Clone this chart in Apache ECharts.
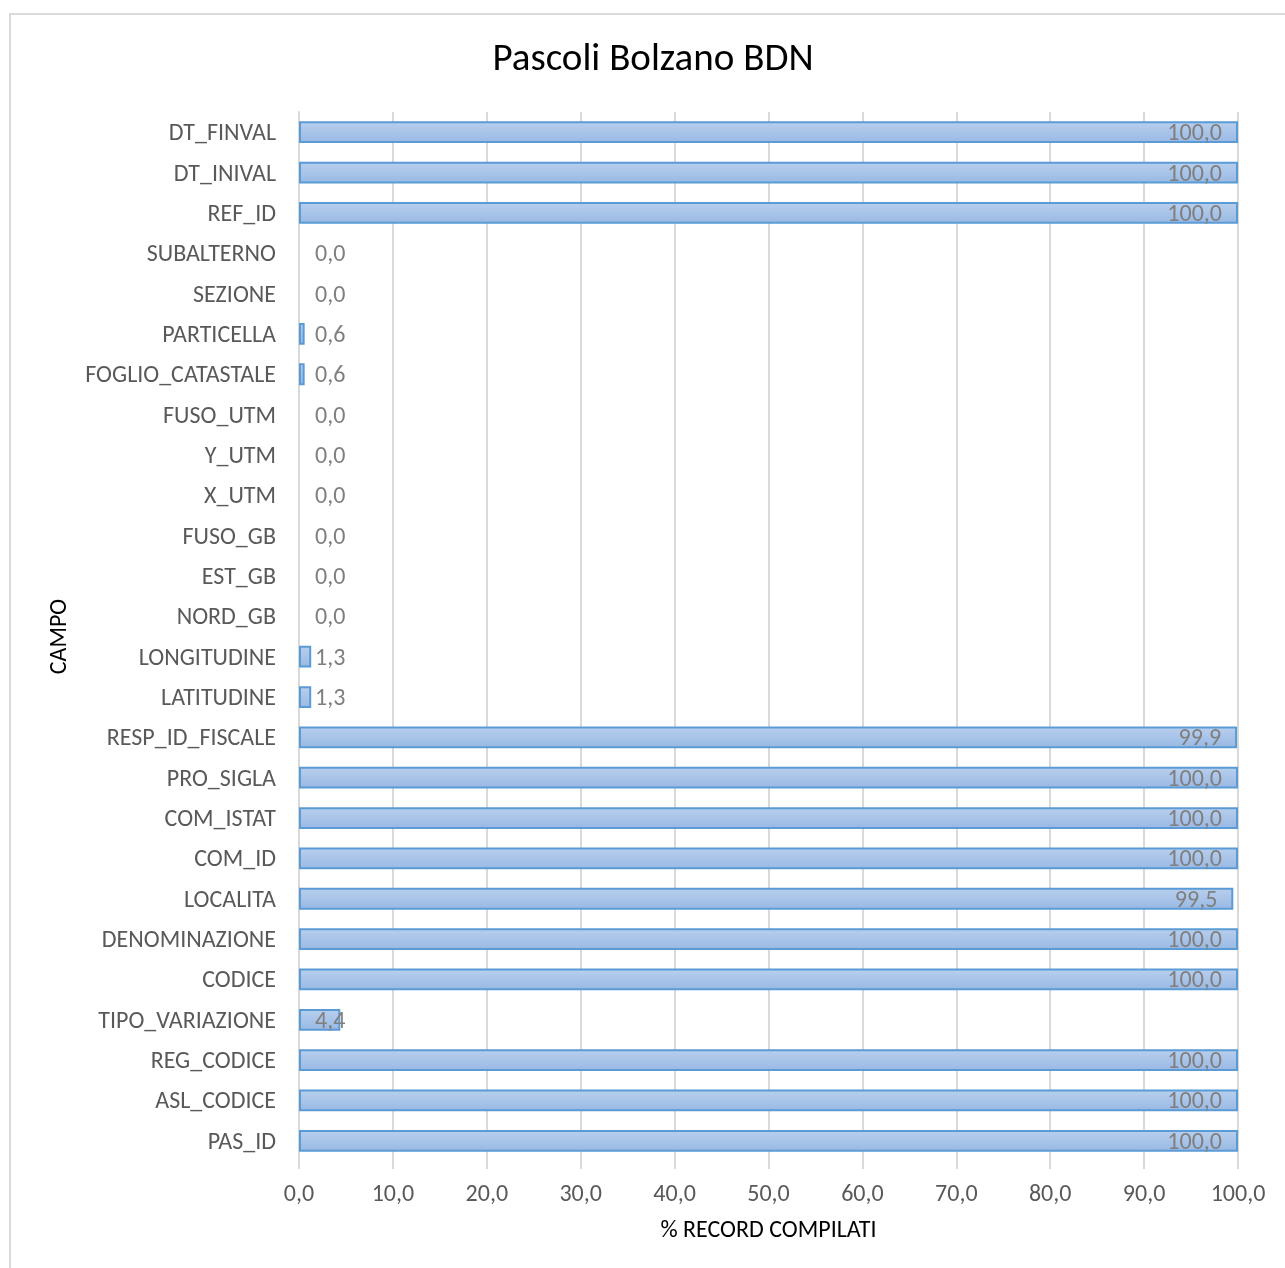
<!DOCTYPE html>
<html>
<head>
<meta charset="utf-8">
<script src="https://cdn.jsdelivr.net/npm/echarts@6/dist/echarts.min.js"></script>
<style>
  html, body { margin: 0; padding: 0; background: #fff; }
  #chart { width: 1285px; height: 1268px; }
</style>
</head>
<body>
<div id="chart"></div>
<script>
// Fields, listed bottom to top as they appear on the category axis
const campi = [
  'PAS_ID', 'ASL_CODICE', 'REG_CODICE', 'TIPO_VARIAZIONE', 'CODICE',
  'DENOMINAZIONE', 'LOCALITA', 'COM_ID', 'COM_ISTAT', 'PRO_SIGLA',
  'RESP_ID_FISCALE', 'LATITUDINE', 'LONGITUDINE', 'NORD_GB', 'EST_GB',
  'FUSO_GB', 'X_UTM', 'Y_UTM', 'FUSO_UTM', 'FOGLIO_CATASTALE',
  'PARTICELLA', 'SEZIONE', 'SUBALTERNO', 'REF_ID', 'DT_INIVAL', 'DT_FINVAL'
];

// Percentage of filled records per field
const percentuali = [
  100.0, 100.0, 100.0, 4.4, 100.0,
  100.0, 99.5, 100.0, 100.0, 100.0,
  99.9, 1.3, 1.3, 0.0, 0.0,
  0.0, 0.0, 0.0, 0.0, 0.6,
  0.6, 0.0, 0.0, 100.0, 100.0, 100.0
];

const titolo = 'Pascoli Bolzano BDN';
const nomeAsseX = '% RECORD COMPILATI';
const nomeAsseY = 'CAMPO';

const FONT = "Carlito, Calibri, 'Liberation Sans', sans-serif";
const fmt = v => v.toFixed(1).replace('.', ',');

const barFill = new echarts.graphic.LinearGradient(0, 0, 0, 1, [
  { offset: 0, color: '#b9d0ee' },
  { offset: 1, color: '#98b8e3' }
]);

const seriesData = percentuali.map(v => {
  const long = v > 50;
  return {
    value: v,
    itemStyle: v === 0 ? { borderWidth: 0 } : {},
    label: {
      position: long ? 'insideRight' : 'insideLeft',
      distance: 16
    }
  };
});

const chart = echarts.init(document.getElementById('chart'), null, { renderer: 'canvas' });

chart.setOption({
  backgroundColor: '#ffffff',
  animation: false,
  title: {
    text: titolo,
    left: 648,
    top: 36,
    textAlign: 'center',
    textStyle: { fontFamily: FONT, fontSize: 39, fontWeight: 'normal', color: '#000000' }
  },
  graphic: [{
    type: 'rect',
    shape: { x: 10, y: 14, width: 1300, height: 1300 },
    style: { fill: 'none', stroke: '#d9d9d9', lineWidth: 2 },
    silent: true,
    z: -10
  }],
  grid: { left: 299, right: 47, top: 112, bottom: 107, containLabel: false },
  xAxis: {
    type: 'value',
    min: 0,
    max: 100,
    interval: 10,
    name: nomeAsseX,
    nameLocation: 'middle',
    nameGap: 58,
    nameTextStyle: { fontFamily: FONT, fontSize: 24, color: '#000000' },
    axisLine: { show: false },
    axisTick: { show: true, length: 8, lineStyle: { color: '#d9d9d9', width: 2 } },
    axisLabel: { fontFamily: FONT, fontSize: 24, color: '#595959', margin: 22, formatter: fmt },
    splitLine: { show: true, lineStyle: { color: '#d9d9d9', width: 2 } }
  },
  yAxis: {
    type: 'category',
    data: campi,
    name: nomeAsseY,
    nameLocation: 'middle',
    nameGap: 227,
    nameRotate: 90,
    nameTextStyle: { fontFamily: FONT, fontSize: 24, color: '#000000' },
    axisLine: { show: true, lineStyle: { color: '#d9d9d9', width: 2 } },
    axisTick: { show: false },
    axisLabel: {
      fontFamily: FONT, fontSize: 24, color: '#595959', margin: 23,
      formatter: v => '{c|' + v + '}',
      rich: { c: { fontFamily: FONT, fontSize: 24, color: '#595959', padding: [4, 0, 0, 0] } }
    }
  },
  series: [{
    type: 'bar',
    data: seriesData,
    barCategoryGap: '46%',
    itemStyle: { color: barFill, borderColor: '#5b9bd5', borderWidth: 2 },
    label: {
      show: true,
      fontFamily: FONT,
      fontSize: 24,
      color: '#7f7f7f',
      offset: [0, 2],
      formatter: p => fmt(p.value)
    }
  }]
});
</script>
</body>
</html>
